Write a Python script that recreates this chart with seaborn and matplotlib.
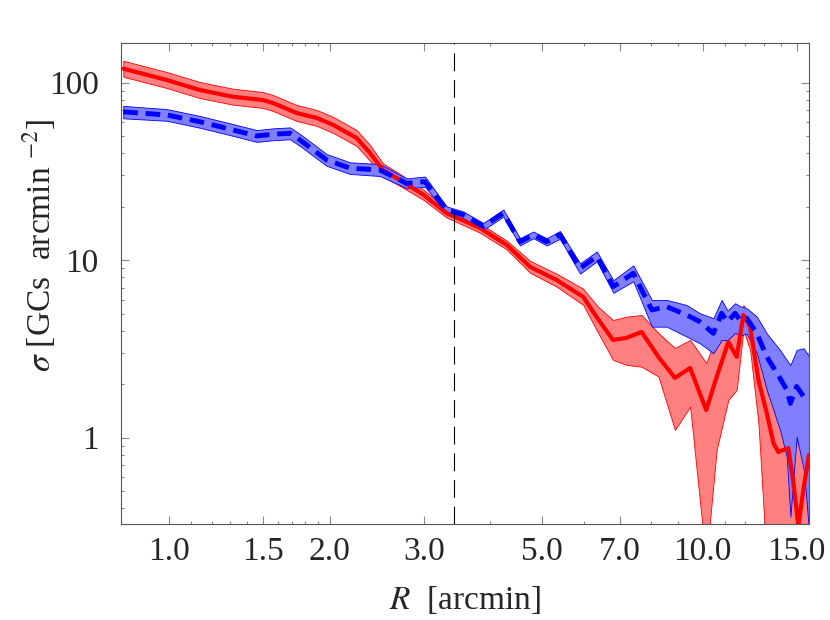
import matplotlib
matplotlib.use("Agg")
import matplotlib.pyplot as plt
import seaborn as sns
from matplotlib.ticker import FixedLocator, FixedFormatter, NullFormatter

# ---- data (R in arcmin, sigma in GCs/arcmin^2) ----
r_red = [0.82, 0.99, 1.14, 1.316, 1.5, 1.565, 1.733, 1.89, 2.03, 2.245, 2.378, 2.515, 2.707,
         3.0, 3.31, 3.82, 4.29, 4.75, 5.32, 5.97, 6.35, 6.79, 7.2, 7.68, 8.26, 8.87, 9.47,
         10.15, 10.62, 11.17, 11.58, 11.92, 12.27, 12.72, 13.18, 13.57, 13.86, 14.47, 14.79,
         15.11, 15.44, 15.82]
red_mid = [120, 103.5, 91, 83.4, 79.8, 76.8, 67.5, 63.3, 57.8, 48.8, 40.2, 32.2, 28.3,
           23.3, 18.4, 15.2, 12.2, 9.16, 7.74, 6.21, 4.7, 3.55, 3.65, 3.94, 2.85, 2.17, 2.47,
           1.43, 2.2, 3.46, 2.85, 4.91, 4.21, 2.11, 1.38, 0.93, 0.83, 0.875, 0.556,
           0.318, 0.508, 0.80]
red_lo = [108, 93.3, 82, 75.2, 72, 69.3, 60.9, 57.1, 52.1, 44, 36.3, 29.5, 26.2,
          21.8, 17.4, 14.3, 11.5, 8.48, 7.1, 5.6, 3.95, 2.74, 2.57, 2.51, 2.21, 1.105, 1.495,
          0.2, 0.853, 1.63, 1.86, 4.04, 3.12, 1.2, 0.2, 0.2, 0.2, 0.2, 0.2,
          0.2, 0.2, 0.2]
red_hi = [133, 114.8, 101, 92.5, 88.5, 85.2, 74.9, 70.2, 64.1, 54.1, 44.6, 35.1, 30.6,
          24.9, 19.5, 16.1, 12.9, 9.9, 8.4, 6.9, 5.5, 4.6, 4.81, 4.91, 3.89, 3.2, 3.55,
          2.64, 3.71, 4.22, 3.96, 5.59, 4.81, 3.9, 2.6, 1.7, 1.5, 1.4, 1.2,
          0.9, 1.1, 1.4]

r_blue = [0.82, 0.99, 1.14, 1.316, 1.458, 1.565, 1.684, 1.758, 1.973, 2.182, 2.483, 2.707,
          2.786, 3.016, 3.31, 3.558, 3.879, 4.229, 4.544, 4.813, 5.1, 5.4, 5.89, 6.33, 6.8,
          7.41, 8.03, 8.56, 9.33, 9.88, 10.47, 10.85, 11.13, 11.5, 11.75, 12.09, 12.63,
          13.18, 13.96, 14.37, 14.6, 15.0, 15.47, 15.82]
blue_mid = [68.5, 65.8, 60.3, 54.2, 50.1, 51.2, 51.9, 47.6, 36.7, 33.0, 32.2, 28.3,
            27.1, 27.7, 19.2, 18.0, 15.5, 18.4, 12.7, 13.9, 12.7, 13.9, 9.0, 10.5, 7.1,
            8.44, 5.24, 5.47, 4.91, 4.5, 3.87, 5.02, 4.5, 5.02, 4.6, 4.71, 3.87,
            2.86, 2.16, 1.86, 1.56, 1.94, 1.70, 1.74]
blue_lo = [63, 61, 55.8, 50.2, 46.4, 47.4, 48, 44, 34, 30.6, 29.8, 26.5,
           25.4, 25.9, 18.3, 17.2, 14.8, 17.6, 12.1, 13.3, 12.1, 13.2, 8.4, 9.85, 6.55,
           7.6, 4.22, 4.22, 3.71, 3.40, 2.99, 3.55, 3.55, 3.89, 3.75, 3.87, 2.99,
           1.86, 1.105, 0.78, 0.359, 1.01, 0.658, 0.30]
blue_hi = [74, 71, 65, 58.5, 54.1, 55.3, 56, 51.4, 39.6, 35.6, 34.8, 30.2,
           28.9, 29.6, 20.1, 18.8, 16.2, 19.3, 13.3, 14.5, 13.3, 14.6, 9.6, 11.2, 7.7,
           9.35, 5.97, 5.97, 5.59, 5.02, 4.71, 5.97, 5.2, 5.72, 5.5, 5.36, 4.81,
           3.87, 3.12, 2.74, 2.57, 3.12, 3.19, 2.86]

r_eff = 3.42

x_major = [1.0, 1.5, 2.0, 3.0, 5.0, 7.0, 10.0, 15.0]
x_labels = ["1.0", "1.5", "2.0", "3.0", "5.0", "7.0", "10.0", "15.0"]
x_minor = [1.1, 1.2, 1.3, 1.4, 1.6, 1.7, 1.8, 1.9, 4, 6, 8, 9, 11, 12, 13, 14]
y_major = [1, 10, 100]
y_labels = ["1", "10", "100"]
y_minor = [0.4, 0.5, 0.6, 0.7, 0.8, 0.9, 2, 3, 4, 5, 6, 7, 8, 9,
           20, 30, 40, 50, 60, 70, 80, 90]

# ---- style ----
sns.set_style("ticks")
plt.rcParams['font.family'] = ['Liberation Serif', 'DejaVu Serif']
plt.rcParams['mathtext.fontset'] = 'stix'

fig = plt.figure(figsize=(8.3, 6.2), dpi=100)
ax = fig.add_axes([0.1458, 0.1548, 0.8289, 0.7763])

# bands
ax.fill_between(r_red, red_lo, red_hi, facecolor='#ff8080', edgecolor='#ff0000',
                linewidth=0.6, zorder=1)
ax.fill_between(r_blue, blue_lo, blue_hi, facecolor='#8080ff', edgecolor='#0000ff',
                linewidth=0.6, zorder=2)

# lines
sns.lineplot(x=r_red, y=red_mid, color='#ff0000', linewidth=3.0, ax=ax, zorder=3)
sns.lineplot(x=r_blue, y=blue_mid, color='#0000ff', linewidth=3.5, ax=ax, zorder=4)
ax.lines[-1].set_dashes([3, 1.6])

ax.axvline(r_eff, color='black', linewidth=0.8, dashes=(16, 8), zorder=5)

ax.set_xscale('log')
ax.set_yscale('log')
ax.set_xlim(0.812, 15.82)
ax.set_ylim(0.326, 168)

ax.xaxis.set_major_locator(FixedLocator(x_major))
ax.xaxis.set_major_formatter(FixedFormatter(x_labels))
ax.xaxis.set_minor_locator(FixedLocator(x_minor))
ax.xaxis.set_minor_formatter(NullFormatter())
ax.yaxis.set_major_locator(FixedLocator(y_major))
ax.yaxis.set_major_formatter(FixedFormatter(y_labels))
ax.yaxis.set_minor_locator(FixedLocator(y_minor))
ax.yaxis.set_minor_formatter(NullFormatter())

ax.tick_params(which='both', direction='in', top=True, right=True,
               color='#888888', width=0.8)
ax.tick_params(which='major', length=6)
ax.tick_params(which='minor', length=2.5)
ax.tick_params(axis='both', which='major', labelsize=24)
ax.tick_params(axis='x', which='major', pad=9)
ax.tick_params(axis='y', which='major', pad=16)

for s in ax.spines.values():
    s.set_color('#555555')
    s.set_linewidth(0.8)

ax.set_xlabel(r"$R$  [arcmin]", fontsize=24)
ax.set_ylabel(r"$\sigma$ [GCs  arcmin $^{-2}$]", fontsize=24)
ax.xaxis.set_label_coords(0.5, -0.125)
ax.yaxis.set_label_coords(-0.092, 0.58)

fig.savefig("out.png", dpi=100)
